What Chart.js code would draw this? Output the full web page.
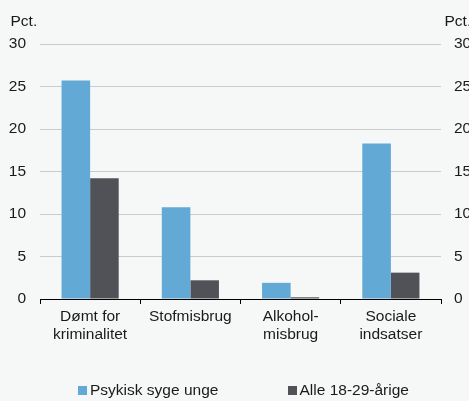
<!DOCTYPE html>
<html>
<head>
<meta charset="utf-8">
<script src="https://cdn.jsdelivr.net/npm/chart.js@4/dist/chart.umd.min.js"></script>
<style>
  html, body { margin: 0; padding: 0; background: #f6f8f8; }
  #wrap { width: 469px; height: 401px; position: relative; }
</style>
</head>
<body>
<div id="wrap"><canvas id="c" width="469" height="401"></canvas></div>
<script>
const categories = [["Dømt for", "kriminalitet"], "Stofmisbrug", ["Alkohol-", "misbrug"], ["Sociale", "indsatser"]];
const seriesNames = ["Psykisk syge unge", "Alle 18-29-årige"];
const psykiskSygeUnge = [25.7, 10.8, 1.9, 18.3];
const alle18til29 = [14.2, 2.2, 0.2, 3.1];
const yTicks = [0, 5, 10, 15, 20, 25, 30];
const unitLabel = "Pct.";

const FONT = "'Liberation Sans', Arial, Helvetica, sans-serif";
const FS = 15.5;
const colors = ["#63a9d5", "#505257"];

const bgPlugin = {
  id: 'bg',
  beforeDraw(chart) {
    const ctx = chart.ctx;
    ctx.save();
    ctx.fillStyle = '#f6f8f8';
    ctx.fillRect(0, 0, chart.width, chart.height);
    ctx.restore();
  }
};

const textPlugin = {
  id: 'extras',
  afterDraw(chart) {
    const ctx = chart.ctx;
    ctx.save();
    ctx.font = FS + 'px ' + FONT;
    ctx.fillStyle = '#1a1a1a';
    ctx.textBaseline = 'alphabetic';
    ctx.textAlign = 'left';
    ctx.fillText(unitLabel, 10.5, 26);
    ctx.fillText(unitLabel, 444.5, 26);
    // legend
    const items = [{box: 78, text: 90}, {box: 288, text: 299.5}];
    chart.data.datasets.forEach((ds, i) => {
      const it = items[i];
      ctx.fillStyle = ds.backgroundColor;
      ctx.fillRect(it.box, 386, 9, 9);
      ctx.fillStyle = '#1a1a1a';
      ctx.textBaseline = 'middle';
      ctx.fillText(ds.label, it.text, 390.5);
    });
    ctx.restore();
  }
};

new Chart(document.getElementById('c'), {
  type: 'bar',
  data: {
    labels: categories,
    datasets: [
      { label: seriesNames[0], data: psykiskSygeUnge, backgroundColor: colors[0], yAxisID: 'y' },
      { label: seriesNames[1], data: alle18til29, backgroundColor: colors[1], yAxisID: 'y' }
    ]
  },
  options: {
    responsive: false,
    animation: false,
    devicePixelRatio: 1,
    categoryPercentage: 0.57,
    barPercentage: 1,
    layout: { padding: { top: 44, bottom: 0, left: 0, right: 0 } },
    plugins: { legend: { display: false }, tooltip: { enabled: false } },
    scales: {
      x: {
        offset: true,
        grid: { display: true, drawOnChartArea: false, drawTicks: true, tickLength: 5, color: '#000', offset: true },
        border: { display: true, color: '#000', width: 1 },
        ticks: { font: { family: FONT, size: FS, lineHeight: 1.17 }, color: '#1a1a1a', padding: 4, maxRotation: 0, autoSkip: false },
        afterFit(s) { s.height = 102; }
      },
      y: {
        position: 'left',
        min: 0, max: 30,
        afterBuildTicks(s) { s.ticks = yTicks.map(v => ({ value: v })); },
        grid: { color: '#c9cbcc', drawTicks: false, lineWidth: 1 },
        border: { display: false },
        ticks: { font: { family: FONT, size: FS }, color: '#1a1a1a', padding: 14 },
        afterFit(s) { s.width = 40; }
      },
      y2: {
        position: 'right',
        min: 0, max: 30,
        afterBuildTicks(s) { s.ticks = yTicks.map(v => ({ value: v })); },
        grid: { display: false, drawTicks: false },
        border: { display: false },
        ticks: { font: { family: FONT, size: FS }, color: '#1a1a1a', padding: 13 },
        afterFit(s) { s.width = 28; }
      }
    }
  },
  plugins: [bgPlugin, textPlugin]
});
</script>
</body>
</html>
